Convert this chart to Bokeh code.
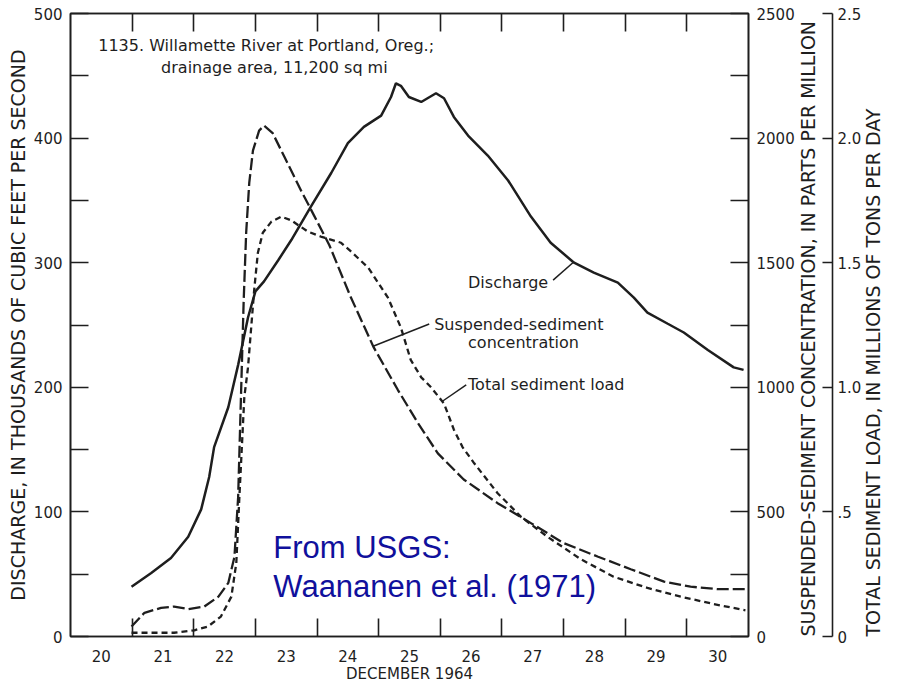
import math
from bokeh.plotting import figure
from bokeh.models import Range1d, LinearAxis, FixedTicker, Label
from bokeh.embed import file_html
from bokeh.resources import INLINE

# ---------------- data ----------------
# Discharge, thousands of cubic feet per second
q_day = [20.49, 20.81, 21.13, 21.41, 21.62, 21.75, 21.83, 22.06, 22.22, 22.38, 22.50,
         22.64, 22.87, 23.08, 23.40, 23.73, 24.00, 24.26, 24.54, 24.70, 24.78, 24.86,
         24.99, 25.19, 25.43, 25.56, 25.72, 25.95, 26.27, 26.60, 26.97, 27.29, 27.67,
         27.99, 28.38, 28.64, 28.86, 29.19, 29.45, 29.84, 30.26, 30.42]
discharge = [40, 51, 63, 80, 102, 128, 152, 184, 218, 256, 277,
             285, 302, 318, 345, 372, 396, 409, 418, 433, 444, 442,
             433, 429, 436, 432, 417, 402, 386, 366, 337, 316, 300,
             292, 284, 272, 260, 251, 244, 230, 216, 214]

# Suspended-sediment concentration, parts per million
c_day = [20.49, 20.70, 20.97, 21.18, 21.41, 21.67, 21.90, 22.06, 22.16, 22.22, 22.27,
         22.31, 22.35, 22.40, 22.46, 22.56, 22.64, 22.78, 22.97, 23.24, 23.45, 23.70,
         24.05, 24.42, 24.81, 25.14, 25.46, 25.88, 26.43, 26.97, 27.50, 28.06, 28.59,
         29.13, 29.56, 30.00, 30.45]
concentration = [40, 95, 115, 120, 110, 120, 160, 215, 320, 560, 1000,
                 1350, 1620, 1820, 1950, 2030, 2050, 2020, 1925, 1790, 1690, 1570,
                 1360, 1160, 990, 855, 735, 630, 535, 455, 375, 320, 270,
                 220, 200, 190, 190]

# Total sediment load, millions of tons per day
l_day = [20.49, 20.81, 21.18, 21.51, 21.73, 21.94, 22.11, 22.19, 22.24, 22.32, 22.38,
         22.48, 22.54, 22.62, 22.76, 22.92, 23.08, 23.35, 23.56, 23.89, 24.05, 24.33,
         24.65, 24.86, 25.02, 25.19, 25.35, 25.56, 25.72, 25.86, 26.05, 26.43, 26.81,
         27.24, 27.78, 28.31, 28.86, 29.40, 29.94, 30.45]
load = [0.015, 0.015, 0.015, 0.025, 0.04, 0.08, 0.16, 0.295, 0.56, 0.96, 1.08,
        1.39, 1.54, 1.62, 1.665, 1.685, 1.67, 1.625, 1.605, 1.58, 1.545, 1.48,
        1.36, 1.24, 1.11, 1.04, 1.00, 0.935, 0.83, 0.76, 0.695, 0.575, 0.48,
        0.40, 0.31, 0.24, 0.195, 0.16, 0.13, 0.105]

# tick values / labels
day_labels = [20, 21, 22, 23, 24, 25, 26, 27, 28, 29, 30]
day_bounds = [20.5, 21.5, 22.5, 23.5, 24.5, 25.5, 26.5, 27.5, 28.5, 29.5]
q_ticks = [0, 100, 200, 300, 400, 500]
q_minor = [50, 150, 250, 350, 450]
c_ticks = [0, 500, 1000, 1500, 2000, 2500]
c_minor = [250, 750, 1250, 1750, 2250]
l_ticks = [0, 0.5, 1.0, 1.5, 2.0, 2.5]
l_tick_text = ["0", ".5", "1.0", "1.5", "2.0", "2.5"]

FONT = "DejaVu Sans"
INK = "#1e1e1e"

p = figure(width=904, height=685, output_backend="svg", toolbar_location=None,
           x_range=Range1d(19.5, 30.5), y_range=Range1d(0, 500),
           min_border_left=70, min_border_right=156, min_border_top=13,
           min_border_bottom=48, x_axis_location=None, y_axis_location=None)
p.extra_y_ranges = {"ppm": Range1d(0, 2500), "load": Range1d(0, 2.5)}
p.grid.visible = False
p.outline_line_color = INK
p.outline_line_width = 1.6
p.background_fill_color = "white"
p.border_fill_color = "white"


def style(ax, tick_in=18):
    ax.axis_line_color = INK
    ax.axis_line_width = 1.6
    ax.major_tick_line_color = INK
    ax.minor_tick_line_color = INK
    ax.major_tick_line_width = 1.6
    ax.minor_tick_line_width = 1.6
    ax.major_tick_in = tick_in
    ax.major_tick_out = 0
    ax.minor_tick_in = tick_in
    ax.minor_tick_out = 0
    ax.major_label_text_font = FONT
    ax.major_label_text_font_size = "15px"
    ax.major_label_text_color = INK
    ax.axis_label_text_font = FONT
    ax.axis_label_text_font_style = "normal"
    ax.axis_label_text_color = INK
    ax.axis_label_text_font_size = "19px"


# left: discharge
ax_left = LinearAxis(ticker=FixedTicker(ticks=q_ticks, minor_ticks=q_minor),
                     axis_label="DISCHARGE, IN THOUSANDS OF CUBIC FEET PER SECOND")
style(ax_left)
ax_left.major_label_standoff = 8
ax_left.axis_label_standoff = 2
p.add_layout(ax_left, "left")

# bottom: dates
ax_bot = LinearAxis(ticker=FixedTicker(ticks=day_labels, minor_ticks=day_bounds),
                    axis_label="DECEMBER 1964")
style(ax_bot)
ax_bot.major_tick_in = 0
ax_bot.major_label_standoff = 13
ax_bot.axis_label_standoff = 0
ax_bot.axis_label_text_font_size = "15px"
p.add_layout(ax_bot, "below")

# top: tick marks only
ax_top = LinearAxis(ticker=FixedTicker(ticks=[], minor_ticks=day_bounds))
style(ax_top)
p.add_layout(ax_top, "above")

# right 1: concentration (title reads bottom to top)
ax_ppm = LinearAxis(y_range_name="ppm",
                    ticker=FixedTicker(ticks=c_ticks, minor_ticks=c_minor),
                    axis_label="SUSPENDED-SEDIMENT CONCENTRATION, IN PARTS PER MILLION")
style(ax_ppm)
ax_ppm.major_label_standoff = 8
ax_ppm.axis_label_standoff = 10
ax_ppm.axis_label_orientation = math.pi / 2
ax_ppm.axis_label_align = "start"
p.add_layout(ax_ppm, "right")

# right 2: total load
ax_load = LinearAxis(y_range_name="load", ticker=FixedTicker(ticks=l_ticks),
                     axis_label="TOTAL SEDIMENT LOAD, IN MILLIONS OF TONS PER DAY")
style(ax_load, tick_in=10)
ax_load.major_label_overrides = {t: s for t, s in zip(l_ticks, l_tick_text)}
ax_load.major_label_standoff = 5
ax_load.axis_label_standoff = 9
ax_load.axis_label_orientation = math.pi / 2
ax_load.axis_label_align = "start"
p.add_layout(ax_load, "right")

# series
p.line(q_day, discharge, line_color=INK, line_width=2.5)
p.line(c_day, concentration, y_range_name="ppm", line_color=INK, line_width=2.3,
       line_dash="12 4")
p.line(l_day, load, y_range_name="load", line_color=INK, line_width=2.3,
       line_dash="6 4")


# annotations
def lab(x, y, text, size="16px", color=INK, font=FONT):
    p.add_layout(Label(x=x, y=y, text=text, text_font=font, text_font_size=size,
                       text_color=color, text_baseline="middle", text_align="left"))


lab(19.95, 474.4, "1135. Willamette River at Portland, Oreg.;")
lab(20.97, 456.7, "drainage area, 11,200 sq mi")
lab(25.95, 284.5, "Discharge")
lab(25.40, 250.8, "Suspended-sediment")
lab(25.95, 235.6, "concentration")
lab(25.95, 202, "Total sediment load")

p.segment(x0=[27.33, 25.32, 25.92], y0=[286, 250.8, 202],
          x1=[27.65, 24.41, 25.54], y1=[300, 233, 189],
          line_color=INK, line_width=1.5)

BLUE = "#10109c"
lab(22.79, 71.3, "From USGS:", size="31px", color=BLUE, font="Liberation Sans")
lab(22.79, 40.1, "Waananen et al. (1971)", size="31px", color=BLUE,
    font="Liberation Sans")

open("out.html", "w").write(file_html(p, INLINE))
